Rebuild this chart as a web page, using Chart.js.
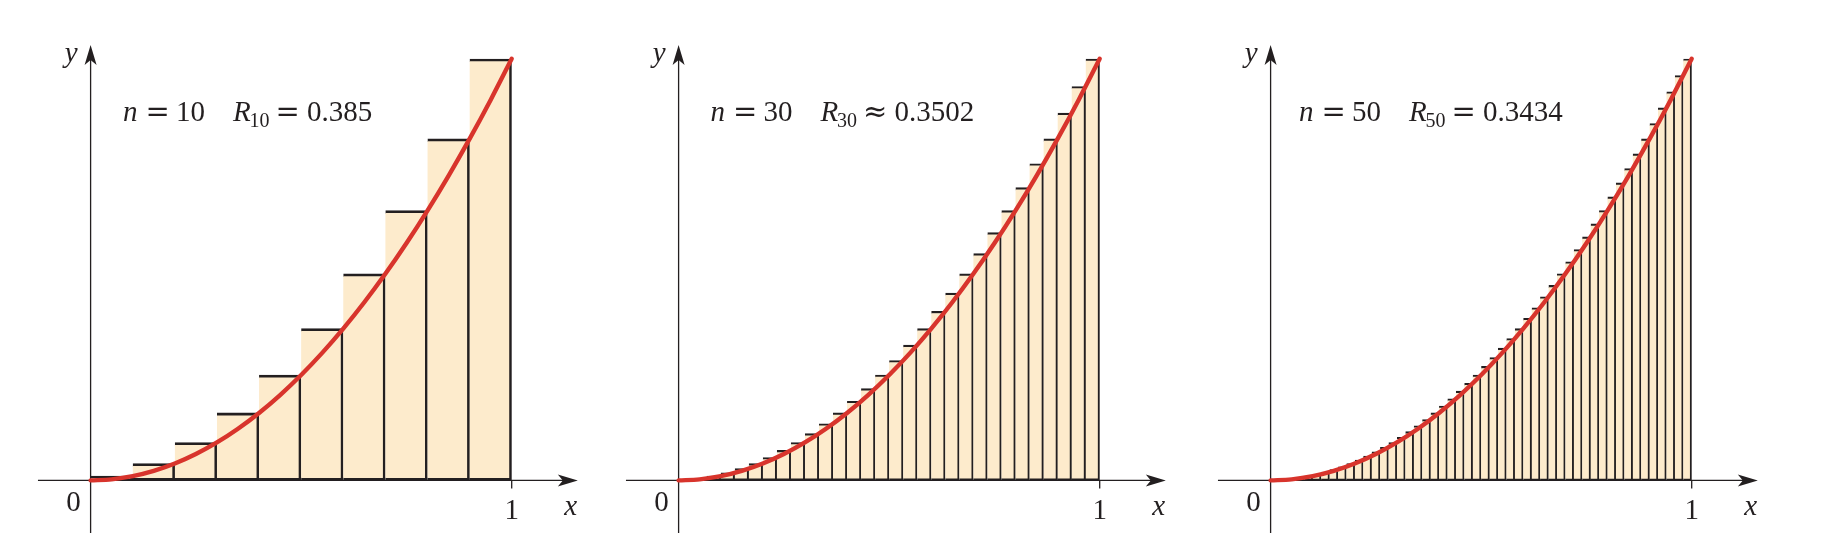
<!DOCTYPE html>
<html>
<head>
<meta charset="utf-8">
<script src="https://cdn.jsdelivr.net/npm/chart.js@4.4.1/dist/chart.umd.min.js"></script>
<style>
  html, body { margin: 0; padding: 0; background: #fff; }
  #wrap { position: relative; width: 1836px; height: 542px; overflow: hidden; }
  .panel { position: absolute; top: 0; width: 590px; height: 542px; }
</style>
</head>
<body>
<div id="wrap">
  <div class="panel" style="left:0px"><canvas id="chart-0" width="590" height="542"></canvas></div>
  <div class="panel" style="left:588px"><canvas id="chart-1" width="590" height="542"></canvas></div>
  <div class="panel" style="left:1180px"><canvas id="chart-2" width="590" height="542"></canvas></div>
</div>
<script>
// rectangle heights (right endpoints)
var bars10 = [0.01, 0.04, 0.09, 0.16, 0.25, 0.36, 0.49, 0.64, 0.81, 1.00];
var bars30 = [0.0011, 0.0044, 0.01, 0.0178, 0.0278, 0.04, 0.0544, 0.0711, 0.09, 0.1111,
  0.1344, 0.16, 0.1878, 0.2178, 0.25, 0.2844, 0.3211, 0.36, 0.4011, 0.4444,
  0.49, 0.5378, 0.5878, 0.64, 0.6944, 0.7511, 0.81, 0.8711, 0.9344, 1.00];
var bars50 = [0.0004, 0.0016, 0.0036, 0.0064, 0.01, 0.0144, 0.0196, 0.0256, 0.0324, 0.04,
  0.0484, 0.0576, 0.0676, 0.0784, 0.09, 0.1024, 0.1156, 0.1296, 0.1444, 0.16,
  0.1764, 0.1936, 0.2116, 0.2304, 0.25, 0.2704, 0.2916, 0.3136, 0.3364, 0.36,
  0.3844, 0.4096, 0.4356, 0.4624, 0.49, 0.5184, 0.5476, 0.5776, 0.6084, 0.64,
  0.6724, 0.7056, 0.7396, 0.7744, 0.81, 0.8464, 0.8836, 0.9216, 0.9604, 1.00];
// the red curve, read at steps of 0.05
var curveX = [0, 0.05, 0.1, 0.15, 0.2, 0.25, 0.3, 0.35, 0.4, 0.45, 0.5,
  0.55, 0.6, 0.65, 0.7, 0.75, 0.8, 0.85, 0.9, 0.95, 1];
var curveY = [0, 0.0025, 0.01, 0.0225, 0.04, 0.0625, 0.09, 0.1225, 0.16, 0.2025, 0.25,
  0.3025, 0.36, 0.4225, 0.49, 0.5625, 0.64, 0.7225, 0.81, 0.9025, 1];
// labels
var panelN = ['10', '30', '50'];
var panelRel = ['=', '\u2248', '='];
var panelSum = ['0.385', '0.3502', '0.3434'];
var tickLabels = ['0', '1'];
var axisNames = ['x', 'y'];

var allBars = [bars10, bars30, bars50];

var INK = '#231f20';
var FILL = '#fdebcc';
var RED = '#d8342c';
var SERIF = '"Liberation Serif", "Times New Roman", "DejaVu Serif", serif';
var MATH = '"DejaVu Serif", serif';

// where the formula starts, px right of the y axis
var textOffset = [32.5, 32, 28.5];
var barLine = [2.8, 2.2, 2.1];

function drawArrow(ctx, tx, ty, dx, dy) {
  // stealth style head, 20 long, 12 wide
  var len = 20, half = 6, notch = 5;
  var px = -dy, py = dx;
  ctx.beginPath();
  ctx.moveTo(tx, ty);
  ctx.lineTo(tx - dx * len + px * half, ty - dy * len + py * half);
  ctx.lineTo(tx - dx * (len - notch), ty - dy * (len - notch));
  ctx.lineTo(tx - dx * len - px * half, ty - dy * len - py * half);
  ctx.closePath();
  ctx.fill();
}

function axesPlugin(p) {
  return {
    id: 'axes' + p,
    beforeDatasetsDraw: function (chart) {
      var ctx = chart.ctx;
      var xs = chart.scales.xl;
      var ys = chart.scales.y;
      var x0 = xs.getPixelForValue(0);
      var x1 = xs.getPixelForValue(1);
      var y0 = ys.getPixelForValue(0);
      var xTip = xs.getPixelForValue(1.157);
      var yTip = ys.getPixelForValue(1.033);
      ctx.save();
      ctx.strokeStyle = INK;
      ctx.fillStyle = INK;
      ctx.lineWidth = 1.3;
      ctx.beginPath();
      ctx.moveTo(xs.getPixelForValue(-0.125), y0);
      ctx.lineTo(xTip - 14, y0);
      ctx.moveTo(x0, ys.getPixelForValue(-0.125));
      ctx.lineTo(x0, yTip + 14);
      // tick at x = 1
      ctx.moveTo(x1, y0);
      ctx.lineTo(x1, y0 + 8);
      ctx.stroke();
      drawArrow(ctx, xTip, y0, 1, 0);
      drawArrow(ctx, x0, yTip, 0, -1);
      ctx.restore();
    },
    afterDraw: function (chart) {
      var ctx = chart.ctx;
      var xs = chart.scales.xl;
      var ys = chart.scales.y;
      var x0 = xs.getPixelForValue(0);
      var x1 = xs.getPixelForValue(1);
      var y0 = ys.getPixelForValue(0);
      var yTip = ys.getPixelForValue(1.033);
      ctx.save();
      ctx.fillStyle = INK;
      ctx.textBaseline = 'alphabetic';
      // tick labels and axis names
      ctx.font = '29px ' + SERIF;
      ctx.textAlign = 'center';
      ctx.fillText(tickLabels[0], x0 - 17, y0 + 30.5);
      ctx.fillText(tickLabels[1], x1, y0 + 39);
      ctx.font = 'italic 29px ' + SERIF;
      ctx.fillText(axisNames[0], x1 + 59, y0 + 35);
      ctx.fillText(axisNames[1], x0 - 19.5, yTip + 17);

      // formula: n = 10   R10 = 0.385
      ctx.textAlign = 'left';
      var bx = x0 + textOffset[p];
      var by = chart.chartArea.top + 62;
      ctx.font = 'italic 29px ' + SERIF;
      ctx.fillText('n', bx, by);
      bx += ctx.measureText('n').width + 8;
      ctx.font = '29px ' + MATH;
      ctx.fillText('=', bx, by);
      bx += ctx.measureText('=').width + 6;
      ctx.font = '29px ' + SERIF;
      ctx.fillText(panelN[p], bx, by);
      bx += ctx.measureText(panelN[p]).width + 28;
      ctx.font = 'italic 29px ' + SERIF;
      ctx.fillText('R', bx, by);
      bx += ctx.measureText('R').width - 1;
      ctx.font = '20px ' + SERIF;
      ctx.fillText(panelN[p], bx, by + 6);
      bx += ctx.measureText(panelN[p]).width + 6;
      ctx.font = '29px ' + MATH;
      ctx.fillText(panelRel[p], bx, by);
      bx += ctx.measureText(panelRel[p]).width + 7;
      ctx.font = '29px ' + SERIF;
      ctx.fillText(panelSum[p], bx, by);
      ctx.restore();
    }
  };
}

function curvePoints() {
  var pts = [];
  for (var i = 0; i < curveX.length; i++) {
    pts.push({ x: curveX[i], y: curveY[i] });
  }
  return pts;
}

function makeChart(p) {
  var values = allBars[p];
  var w = barLine[p];
  var ctx = document.getElementById('chart-' + p).getContext('2d');
  new Chart(ctx, {
    type: 'bar',
    data: {
      labels: values.map(function (v, i) { return String(i + 1); }),
      datasets: [{
        // red curve on top
        type: 'line',
        order: 1,
        data: curvePoints(),
        xAxisID: 'xl',
        yAxisID: 'y',
        borderColor: RED,
        borderWidth: 4.4,
        borderCapStyle: 'round',
        pointRadius: 0,
        cubicInterpolationMode: 'monotone',
        fill: false,
        clip: false
      }, {
        type: 'bar',
        order: 2,
        data: values,
        xAxisID: 'xc',
        yAxisID: 'y',
        backgroundColor: FILL,
        borderColor: INK,
        borderWidth: { top: w, right: w, bottom: w, left: 0 },
        borderSkipped: false,
        grouped: false,
        barPercentage: 1,
        categoryPercentage: 1
      }]
    },
    options: {
      responsive: false,
      animation: false,
      devicePixelRatio: 1,
      events: [],
      layout: {
        autoPadding: false,
        padding: { left: 90.6, right: 78.3, top: 58.8, bottom: 61.6 }
      },
      scales: {
        xc: { type: 'category', display: false, offset: true },
        xl: { type: 'linear', display: false, offset: false, min: 0, max: 1 },
        y: { type: 'linear', display: false, offset: false, min: 0, max: 1 }
      },
      plugins: {
        legend: { display: false },
        tooltip: { enabled: false }
      }
    },
    plugins: [axesPlugin(p)]
  });
}

for (var p = 0; p < 3; p++) {
  makeChart(p);
}
</script>
</body>
</html>
